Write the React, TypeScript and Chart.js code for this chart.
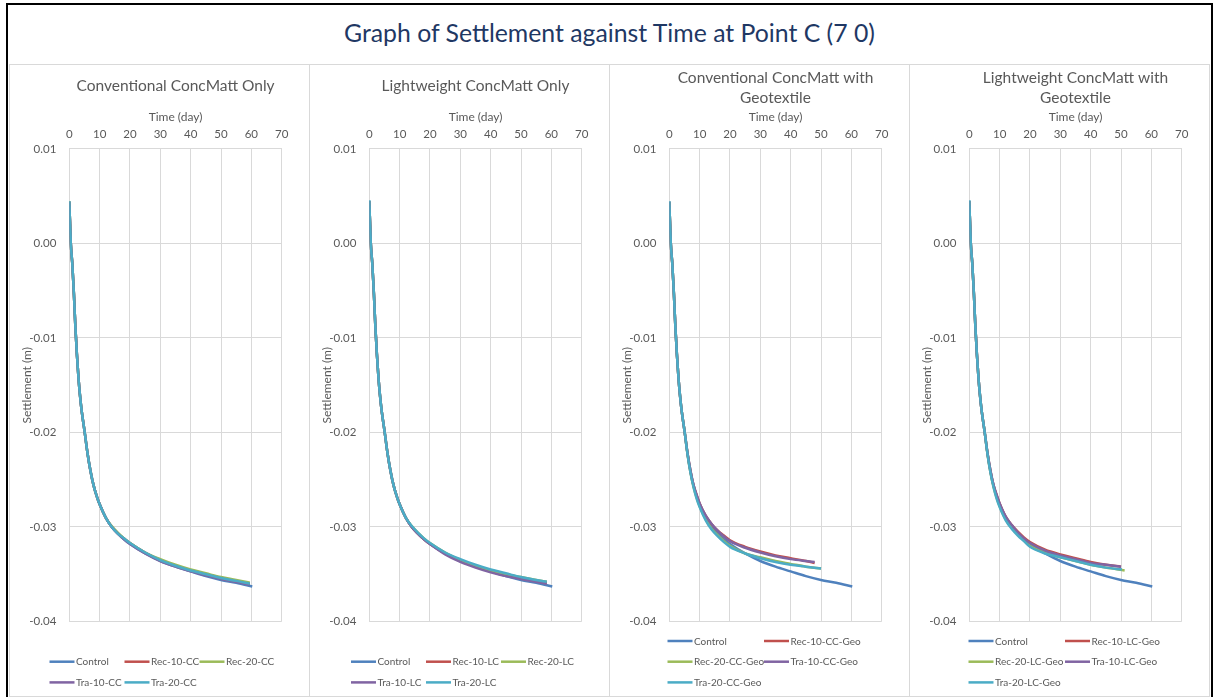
import React, { useEffect, useRef } from 'react';
import { Chart, registerables } from 'chart.js';

Chart.register(...registerables);

const FONT = 'Lato, "Noto Sans", sans-serif';
const TXT = '#595959';
const GRID = '#D9D9D9';

// ---------- text ----------
const PAGE_TITLE = 'Graph of Settlement against Time at Point C (7 0)';
const PANEL_TITLES: string[][] = [
  ['Conventional ConcMatt Only'],
  ['Lightweight ConcMatt Only'],
  ['Conventional ConcMatt with', 'Geotextile'],
  ['Lightweight ConcMatt with', 'Geotextile'],
];
const X_TITLE = 'Time (day)';
const Y_TITLE = 'Settlement (m)';
const X_TICKS = [0, 10, 20, 30, 40, 50, 60, 70];
const Y_TICKS = [-0.04, -0.03, -0.02, -0.01, 0.0, 0.01];

const SERIES_COLORS = ['#4F81BD', '#C0504D', '#9BBB59', '#8064A2', '#4BACC6'];

// ---------- data: time (day) ----------
const tControl = [0, 0.5, 1, 1.5, 2, 2.5, 3, 3.5, 4, 4.5, 5, 6, 7, 8, 9, 10, 12, 14, 16, 18, 20, 25, 30, 35, 40, 45, 50, 55, 60.3];
const tCC = [0, 0.5, 1, 1.5, 2, 2.5, 3, 3.5, 4, 4.5, 5, 6, 7, 8, 9, 10, 12, 14, 16, 18, 20, 25, 30, 35, 40, 45, 50, 55, 59.5];
const tLC = [0, 0.5, 1, 1.5, 2, 2.5, 3, 3.5, 4, 4.5, 5, 6, 7, 8, 9, 10, 12, 14, 16, 18, 20, 25, 30, 35, 40, 45, 50, 55, 58.5];
const tCCGeo10 = [0, 0.5, 1, 1.5, 2, 2.5, 3, 3.5, 4, 4.5, 5, 6, 7, 8, 9, 10, 12, 14, 16, 18, 20, 25, 30, 35, 40, 45, 47.9];
const tCCGeo20 = [0, 0.5, 1, 1.5, 2, 2.5, 3, 3.5, 4, 4.5, 5, 6, 7, 8, 9, 10, 12, 14, 16, 18, 20, 25, 30, 35, 40, 45, 50];
const tLCGeo10 = [0, 0.5, 1, 1.5, 2, 2.5, 3, 3.5, 4, 4.5, 5, 6, 7, 8, 9, 10, 12, 14, 16, 18, 20, 25, 30, 35, 40, 45, 50];
const tRec20LCGeo = [0, 0.5, 1, 1.5, 2, 2.5, 3, 3.5, 4, 4.5, 5, 6, 7, 8, 9, 10, 12, 14, 16, 18, 20, 25, 30, 35, 40, 45, 51.2];
const tTra20LCGeo = [0, 0.5, 1, 1.5, 2, 2.5, 3, 3.5, 4, 4.5, 5, 6, 7, 8, 9, 10, 12, 14, 16, 18, 20, 25, 30, 35, 40, 45, 50.3];

// ---------- data: settlement (m) ----------
const control = [0.0044, 0.0, -0.0022, -0.0052, -0.0088, -0.0117, -0.0141, -0.016, -0.0175, -0.0187, -0.0198, -0.0222, -0.0241, -0.0256, -0.0267, -0.0276, -0.029, -0.03, -0.0307, -0.0313, -0.0318, -0.0328, -0.0336, -0.0342, -0.0347, -0.0352, -0.0356, -0.0359, -0.0363];

const rec10CC = [0.0044, 0.0, -0.0022, -0.0052, -0.0088, -0.0117, -0.0141, -0.016, -0.0175, -0.0187, -0.0198, -0.0222, -0.0241, -0.0256, -0.0267, -0.0276, -0.029, -0.03, -0.0307, -0.0312, -0.0317, -0.0327, -0.0335, -0.0341, -0.0346, -0.035, -0.0354, -0.0357, -0.036];
const rec20CC = [0.0045, 0.0, -0.0022, -0.0052, -0.0088, -0.0117, -0.0141, -0.016, -0.0175, -0.0187, -0.0198, -0.0222, -0.0241, -0.0256, -0.0267, -0.0276, -0.029, -0.0299, -0.0306, -0.0312, -0.0317, -0.0327, -0.0334, -0.034, -0.0345, -0.0349, -0.0353, -0.0356, -0.0359];
const tra10CC = [0.0044, 0.0, -0.0022, -0.0052, -0.0088, -0.0117, -0.0141, -0.016, -0.0175, -0.0187, -0.0198, -0.0222, -0.0241, -0.0256, -0.0267, -0.0276, -0.029, -0.03, -0.0307, -0.0313, -0.0318, -0.0328, -0.0336, -0.0342, -0.0347, -0.0351, -0.0355, -0.0358, -0.0361];
const tra20CC = [0.0045, 0.0, -0.0022, -0.0052, -0.0088, -0.0117, -0.0141, -0.016, -0.0175, -0.0187, -0.0198, -0.0222, -0.0241, -0.0256, -0.0267, -0.0276, -0.029, -0.03, -0.0307, -0.0312, -0.0317, -0.0327, -0.0335, -0.0341, -0.0346, -0.035, -0.0354, -0.0357, -0.036];

const rec10LC = [0.0045, 0.0, -0.0022, -0.0052, -0.0088, -0.0117, -0.0141, -0.016, -0.0175, -0.0187, -0.0198, -0.0222, -0.0241, -0.0256, -0.0267, -0.0276, -0.029, -0.03, -0.0307, -0.0313, -0.0318, -0.0328, -0.0336, -0.0342, -0.0347, -0.0351, -0.0354, -0.0357, -0.0359];
const rec20LC = [0.0045, 0.0, -0.0022, -0.0052, -0.0088, -0.0117, -0.0141, -0.016, -0.0175, -0.0187, -0.0198, -0.0222, -0.0241, -0.0256, -0.0267, -0.0276, -0.029, -0.0299, -0.0306, -0.0312, -0.0317, -0.0327, -0.0335, -0.0341, -0.0346, -0.035, -0.0353, -0.0356, -0.0358];
const tra10LC = [0.0045, 0.0, -0.0022, -0.0052, -0.0088, -0.0117, -0.0141, -0.016, -0.0175, -0.0187, -0.0198, -0.0222, -0.0241, -0.0256, -0.0267, -0.0276, -0.029, -0.03, -0.0307, -0.0313, -0.0318, -0.0329, -0.0337, -0.0343, -0.0348, -0.0352, -0.0355, -0.0358, -0.036];
const tra20LC = [0.0046, 0.0, -0.0022, -0.0052, -0.0088, -0.0117, -0.0141, -0.016, -0.0175, -0.0187, -0.0198, -0.0222, -0.0241, -0.0256, -0.0267, -0.0276, -0.029, -0.0299, -0.0306, -0.0312, -0.0317, -0.0327, -0.0334, -0.034, -0.0345, -0.0349, -0.0353, -0.0356, -0.0358];

const rec10CCGeo = [0.0044, 0.0, -0.0022, -0.0052, -0.0088, -0.0117, -0.0141, -0.016, -0.0175, -0.0187, -0.0198, -0.0222, -0.0241, -0.0256, -0.0266, -0.0275, -0.0288, -0.0297, -0.0304, -0.0309, -0.0314, -0.0321, -0.0326, -0.033, -0.0333, -0.0336, -0.0338];
const rec20CCGeo = [0.0044, 0.0, -0.0022, -0.0052, -0.0088, -0.0117, -0.0141, -0.016, -0.0175, -0.0187, -0.0198, -0.0223, -0.0243, -0.0258, -0.0269, -0.0278, -0.0292, -0.0302, -0.0309, -0.0315, -0.032, -0.0328, -0.0332, -0.0336, -0.0339, -0.0342, -0.0344];
const tra10CCGeo = [0.0044, 0.0, -0.0022, -0.0052, -0.0088, -0.0117, -0.0141, -0.016, -0.0175, -0.0187, -0.0198, -0.0222, -0.0241, -0.0256, -0.0266, -0.0275, -0.0288, -0.0297, -0.0304, -0.031, -0.0315, -0.0322, -0.0327, -0.0331, -0.0334, -0.0336, -0.0337];
const tra20CCGeo = [0.0045, 0.0, -0.0022, -0.0052, -0.0088, -0.0117, -0.0141, -0.016, -0.0175, -0.0187, -0.0198, -0.0223, -0.0243, -0.0258, -0.027, -0.0279, -0.0293, -0.0303, -0.031, -0.0316, -0.0321, -0.0328, -0.0333, -0.0337, -0.034, -0.0342, -0.0344];

const rec10LCGeo = [0.0045, 0.0, -0.0022, -0.0052, -0.0088, -0.0117, -0.0141, -0.016, -0.0175, -0.0187, -0.0198, -0.0222, -0.0241, -0.0256, -0.0266, -0.0275, -0.0289, -0.0298, -0.0305, -0.0311, -0.0316, -0.0324, -0.0329, -0.0333, -0.0337, -0.034, -0.0342];
const rec20LCGeo = [0.0045, 0.0, -0.0022, -0.0052, -0.0088, -0.0117, -0.0141, -0.016, -0.0175, -0.0187, -0.0198, -0.0223, -0.0243, -0.0258, -0.0269, -0.0278, -0.0292, -0.0301, -0.0308, -0.0314, -0.032, -0.0327, -0.0332, -0.0336, -0.034, -0.0343, -0.0346];
const tra10LCGeo = [0.0045, 0.0, -0.0022, -0.0052, -0.0088, -0.0117, -0.0141, -0.016, -0.0175, -0.0187, -0.0198, -0.0222, -0.0241, -0.0256, -0.0266, -0.0275, -0.0289, -0.0298, -0.0306, -0.0312, -0.0317, -0.0325, -0.033, -0.0334, -0.0338, -0.034, -0.0342];
const tra20LCGeo = [0.0046, 0.0, -0.0022, -0.0052, -0.0088, -0.0117, -0.0141, -0.016, -0.0175, -0.0187, -0.0198, -0.0223, -0.0243, -0.0258, -0.027, -0.0279, -0.0293, -0.0302, -0.0309, -0.0315, -0.0321, -0.0328, -0.0332, -0.0336, -0.034, -0.0343, -0.0345];

type Series = { label: string; t: number[]; v: number[] };

const PANEL_SERIES: Series[][] = [
  [
    { label: 'Control', t: tControl, v: control },
    { label: 'Rec-10-CC', t: tCC, v: rec10CC },
    { label: 'Rec-20-CC', t: tCC, v: rec20CC },
    { label: 'Tra-10-CC', t: tCC, v: tra10CC },
    { label: 'Tra-20-CC', t: tCC, v: tra20CC },
  ],
  [
    { label: 'Control', t: tControl, v: control },
    { label: 'Rec-10-LC', t: tLC, v: rec10LC },
    { label: 'Rec-20-LC', t: tLC, v: rec20LC },
    { label: 'Tra-10-LC', t: tLC, v: tra10LC },
    { label: 'Tra-20-LC', t: tLC, v: tra20LC },
  ],
  [
    { label: 'Control', t: tControl, v: control },
    { label: 'Rec-10-CC-Geo', t: tCCGeo10, v: rec10CCGeo },
    { label: 'Rec-20-CC-Geo', t: tCCGeo20, v: rec20CCGeo },
    { label: 'Tra-10-CC-Geo', t: tCCGeo10, v: tra10CCGeo },
    { label: 'Tra-20-CC-Geo', t: tCCGeo20, v: tra20CCGeo },
  ],
  [
    { label: 'Control', t: tControl, v: control },
    { label: 'Rec-10-LC-Geo', t: tLCGeo10, v: rec10LCGeo },
    { label: 'Rec-20-LC-Geo', t: tRec20LCGeo, v: rec20LCGeo },
    { label: 'Tra-10-LC-Geo', t: tLCGeo10, v: tra10LCGeo },
    { label: 'Tra-20-LC-Geo', t: tTra20LCGeo, v: tra20LCGeo },
  ],
];

// ---------- layout (styles) ----------
const CANVAS_W = 299;
const CANVAS_H = 631;
const LEGEND_LAYOUT = [
  { cols: 3, x: 39.5, colW: 75, y0: 596.7, rowH: 20.7 },
  { cols: 3, x: 41, colW: 75, y0: 596.7, rowH: 20.7 },
  { cols: 2, x: 57.5, colW: 96.5, y0: 576, rowH: 20.7 },
  { cols: 2, x: 58.5, colW: 96.5, y0: 576, rowH: 20.7 },
];
const TITLE_PAD = [
  { top: 11, bottom: 14 },
  { top: 11, bottom: 14 },
  { top: 3, bottom: 2 },
  { top: 3, bottom: 2 },
];

const gridLegend = {
  id: 'gridLegend',
  afterDraw(chart: any, _args: any, opts: any) {
    const ctx = chart.ctx as CanvasRenderingContext2D;
    ctx.save();
    ctx.font = `${opts.fontSize}px ${FONT}`;
    ctx.textBaseline = 'middle';
    ctx.textAlign = 'left';
    chart.data.datasets.forEach((ds: any, i: number) => {
      const col = i % opts.cols;
      const row = Math.floor(i / opts.cols);
      const x = opts.x + col * opts.colW;
      const y = opts.y0 + row * opts.rowH;
      ctx.strokeStyle = ds.borderColor;
      ctx.lineWidth = ds.borderWidth;
      ctx.lineCap = 'butt';
      ctx.beginPath();
      ctx.moveTo(x, y);
      ctx.lineTo(x + opts.lineLen, y);
      ctx.stroke();
      ctx.fillStyle = TXT;
      ctx.fillText(ds.label, x + opts.lineLen + 1.5, y + 0.5);
    });
    ctx.restore();
  },
};

const fmtY = (v: number) => (Math.abs(v) < 1e-9 ? 0 : v).toFixed(2);

function Panel({ index }: { index: number }) {
  const ref = useRef<HTMLCanvasElement | null>(null);
  useEffect(() => {
    if (!ref.current) return;
    const series = PANEL_SERIES[index];
    const lg = LEGEND_LAYOUT[index];
    const chart = new Chart(ref.current, {
      type: 'line',
      data: {
        datasets: series.map((s, i) => ({
          label: s.label,
          data: s.t.map((t, k) => ({ x: t, y: s.v[k] })),
          borderColor: SERIES_COLORS[i],
          backgroundColor: SERIES_COLORS[i],
          borderWidth: 2.5,
          pointRadius: 0,
          pointHoverRadius: 0,
          fill: false,
          tension: 0.4,
          cubicInterpolationMode: 'monotone',
          order: series.length - i,
        })),
      },
      options: {
        responsive: false,
        animation: false,
        events: [],
        layout: { padding: { left: 0, right: 27.3, top: 0, bottom: 74.5 } },
        plugins: {
          legend: { display: false },
          tooltip: { enabled: false },
          title: {
            display: true,
            text: PANEL_TITLES[index],
            color: TXT,
            fullSize: false,
            font: { family: FONT, size: 15.5, weight: 'normal', lineHeight: 1.29 },
            padding: TITLE_PAD[index],
          },
          gridLegend: { ...lg, lineLen: 25, fontSize: 10 },
        } as any,
        scales: {
          x: {
            type: 'linear',
            position: 'top',
            min: 0,
            max: 70,
            afterBuildTicks: (s: any) => {
              s.ticks = X_TICKS.map((value) => ({ value }));
            },
            afterFit: (s: any) => {
              s.height = 39;
            },
            grid: { color: GRID, lineWidth: 1, drawTicks: false },
            border: { color: GRID, width: 1 },
            ticks: {
              color: TXT,
              font: { family: FONT, size: 11.5 },
              padding: 8.1,
              maxRotation: 0,
              autoSkip: false,
            },
            title: {
              display: true,
              text: X_TITLE,
              color: TXT,
              font: { family: FONT, size: 12 },
              padding: { top: 0, bottom: 0 },
            },
          },
          y: {
            type: 'linear',
            min: -0.04,
            max: 0.01,
            afterBuildTicks: (s: any) => {
              s.ticks = Y_TICKS.map((value) => ({ value }));
            },
            afterFit: (s: any) => {
              s.width = 59.3;
            },
            grid: { color: GRID, lineWidth: 1, drawTicks: false },
            border: { color: GRID, width: 1 },
            ticks: {
              color: TXT,
              font: { family: FONT, size: 11.5 },
              padding: 13,
              autoSkip: false,
              callback: (v: any) => fmtY(Number(v)),
            },
            title: {
              display: true,
              text: Y_TITLE,
              color: TXT,
              font: { family: FONT, size: 12 },
              padding: { top: 9.8, bottom: 0 },
            },
          },
        },
      } as any,
      plugins: [gridLegend as any],
    });
    return () => chart.destroy();
  }, [index]);

  return (
    <div
      style={{
        position: 'absolute',
        left: 9 + index * 300,
        top: 64,
        width: 301,
        height: 633,
        border: `1px solid ${GRID}`,
        boxSizing: 'border-box',
        background: '#fff',
      }}
    >
      <canvas ref={ref} width={CANVAS_W} height={CANVAS_H} style={{ display: 'block' }} />
    </div>
  );
}

export default function App() {
  return (
    <div
      style={{
        position: 'absolute',
        left: 0,
        top: 0,
        width: 1215,
        height: 697,
        overflow: 'hidden',
        background: '#fff',
        fontFamily: FONT,
      }}
    >
      <div
        style={{
          position: 'absolute',
          left: 6,
          top: 3,
          width: 1207,
          height: 730,
          border: '2px solid #000',
          boxSizing: 'border-box',
        }}
      />
      <div
        style={{
          position: 'absolute',
          left: 8,
          top: 3,
          width: 1203,
          height: 60,
          lineHeight: '60px',
          textAlign: 'center',
          color: '#1F3864',
          fontSize: 24.8,
          fontFamily: FONT,
          whiteSpace: 'nowrap',
        }}
      >
        {PAGE_TITLE}
      </div>
      {[0, 1, 2, 3].map((i) => (
        <Panel key={i} index={i} />
      ))}
    </div>
  );
}
